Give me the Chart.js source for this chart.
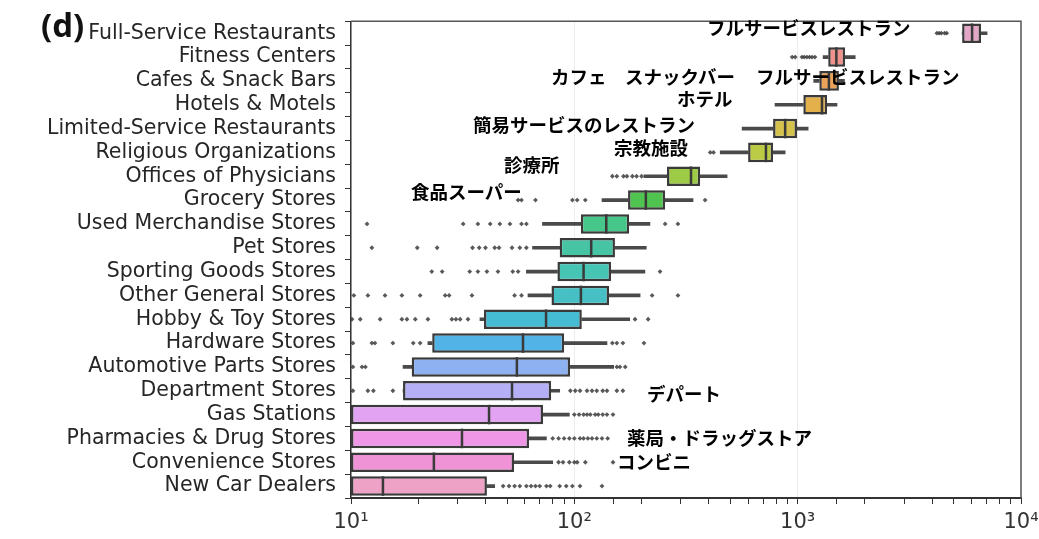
<!DOCTYPE html>
<html>
<head>
<meta charset="utf-8">
<script src="https://cdn.jsdelivr.net/npm/chart.js@4"></script>
<style>
html, body { margin: 0; padding: 0; background: #fff; }
#wrap { position: relative; width: 1039px; height: 539px; }
#chart { position: absolute; left: 0; top: 0; }
.note { position: absolute; font-family: "Noto Sans CJK JP"; font-weight: 700; font-size: 18.5px; line-height: 18px; color: #000; white-space: nowrap; }
#tag { position: absolute; left: 41px; top: 5px; font-family: "Open Sans"; font-weight: 700; font-size: 33px; line-height: 40px; color: #111; }
</style>
</head>
<body>
<div id="wrap">
  <canvas id="chart" width="1039" height="539"></canvas>
  <div id="tag">(d)</div>
</div>
<script>
const categories = [
    'Full-Service Restaurants', 'Fitness Centers', 'Cafes & Snack Bars', 'Hotels & Motels',
    'Limited-Service Restaurants', 'Religious Organizations', 'Offices of Physicians', 'Grocery Stores',
    'Used Merchandise Stores', 'Pet Stores', 'Sporting Goods Stores', 'Other General Stores',
    'Hobby & Toy Stores', 'Hardware Stores', 'Automotive Parts Stores', 'Department Stores',
    'Gas Stations', 'Pharmacies & Drug Stores', 'Convenience Stores', 'New Car Dealers'
];

// box statistics
const q1 =        [5450, 1370, 1250, 1060, 776, 600, 260, 174, 107, 86, 84, 79, 39.4, 23.1, 18.7, 17.1, 10, 10, 10, 10];
const medians =   [6040, 1490, 1380, 1285, 879, 721, 333, 209, 139, 119, 110, 107, 74.7, 58.9, 55.3, 52.6, 41.5, 31.4, 23.5, 13.9];
const q3 =        [6620, 1630, 1530, 1355, 993, 776, 366, 255, 176, 152, 146, 143, 108, 90, 95.7, 78.7, 72.4, 62.7, 53.7, 40.6];
const whiskerLo = [5450, 1300, 1180, 792, 564, 450, 205, 133, 72, 65, 61, 62, 37.8, 22.1, 17.1, 17.1, 10, 10, 10, 10];
const whiskerHi = [7050, 1810, 1620, 1500, 1114, 879, 483, 340, 218, 210, 207, 197, 177, 140, 150, 86, 95, 75, 80, 44];

const outliers = [
    [4200, 4300, 4400, 4550, 4650],
    [945, 975, 1045, 1070, 1100, 1130, 1160, 1195],
    [],
    [],
    [],
    [406, 420],
    [148, 155, 166, 172, 182, 190, 200],
    [56, 58, 67, 98, 103, 112, 385],
    [11.8, 31.8, 37, 42, 46.4, 51.5, 58, 61, 255, 291],
    [12.4, 19.8, 24.3, 35, 37.5, 40, 44, 46, 52.6, 57, 61],
    [23, 25.6, 34, 37, 40.6, 45.5, 53, 56, 242],
    [10.3, 11.9, 14.2, 16.9, 20.4, 26.4, 27.5, 34.8, 54, 58, 223, 291],
    [10.1, 11, 13.5, 16.9, 17.8, 19.4, 22.1, 28.3, 29.5, 30.8, 33.4, 187, 214],
    [10.2, 12.4, 12.8, 15.4, 19, 20.4, 148, 155, 165, 205],
    [10.2, 11.2, 11.6, 155, 160, 169],
    [10.2, 11.9, 12.6, 15.4, 96, 101, 106, 114, 120, 126, 134, 140, 155, 165],
    [100, 105, 110, 114, 118, 124, 128, 134, 140, 149],
    [80, 85, 90, 95, 100, 106, 110, 115, 120, 126, 133, 141],
    [85, 89, 95, 100, 103, 112, 149],
    [48, 51, 54, 57, 61, 64, 67, 70, 75, 78, 86, 92, 98, 106, 133]
];

const boxColors = [
    '#e3a6c6', '#ef928c', '#eba35a', '#e3b04c', '#d5c24c', '#bccb46', '#9dcb46', '#50c350',
    '#46c78a', '#46c4a4', '#46c4b4', '#46c0c4', '#46bcd4', '#52b3e6', '#8eb1f2', '#b5b0f6',
    '#e2a4f2', '#ef96e6', '#ef92d6', '#eea2c6'
];

const xTickValues = [10, 100, 1000, 10000];
const xTickLabels = ['10¹', '10²', '10³', '10⁴'];

// japanese annotations laid over the plot (pixel layout)
const notes = [
    { text: 'フルサービスレストラン', left: 707, cy: 27 },
    { text: 'カフェ　スナックバー', left: 551, cy: 76 },
    { text: 'フルサービスレストラン', left: 756, cy: 76 },
    { text: 'ホテル', left: 677, cy: 98 },
    { text: '簡易サービスのレストラン', left: 473, cy: 124 },
    { text: '宗教施設', left: 614, cy: 147 },
    { text: '診療所', left: 504, cy: 164 },
    { text: '食品スーパー', left: 411, cy: 191 },
    { text: 'デパート', left: 647, cy: 393 },
    { text: '薬局・ドラッグストア', left: 627, cy: 437 },
    { text: 'コンビニ', left: 617, cy: 461 }
];

const wrap = document.getElementById('wrap');
notes.forEach(n => {
    const d = document.createElement('div');
    d.className = 'note';
    d.textContent = n.text;
    d.style.left = n.left + 'px';
    d.style.top = (n.cy - 9) + 'px';
    wrap.appendChild(d);
});

function tickIndex(v) {
    return xTickValues.findIndex(t => Math.abs(t - v) / t < 1e-6);
}

const outlierPoints = [];
outliers.forEach((list, i) => {
    list.forEach(v => outlierPoints.push({ x: v, y: categories[i] }));
});

const medianPlugin = {
    id: 'medians',
    afterDatasetsDraw(chart) {
        const { ctx, chartArea, scales: { x, y } } = chart;
        const bars = chart.getDatasetMeta(0).data;
        ctx.save();
        ctx.strokeStyle = '#3a3a3a';
        ctx.lineWidth = 2.5;
        medians.forEach((m, i) => {
            const px = x.getPixelForValue(m);
            const py = y.getPixelForValue(i);
            const h = bars[i].height / 2;
            ctx.beginPath();
            ctx.moveTo(px, py - h);
            ctx.lineTo(px, py + h);
            ctx.stroke();
        });
        // top and right frame
        ctx.strokeStyle = '#555';
        ctx.lineWidth = 1.5;
        ctx.beginPath();
        ctx.moveTo(chartArea.left, chartArea.top);
        ctx.lineTo(chartArea.right, chartArea.top);
        ctx.lineTo(chartArea.right, chartArea.bottom);
        ctx.stroke();
        ctx.restore();
    }
};

new Chart(document.getElementById('chart'), {
    type: 'bar',
    data: {
        labels: categories,
        datasets: [
            {
                label: 'box',
                data: categories.map((c, i) => [q1[i], q3[i]]),
                backgroundColor: boxColors,
                borderColor: '#3a3a3a',
                borderWidth: 2.5,
                borderSkipped: false,
                barPercentage: 0.82,
                categoryPercentage: 1,
                grouped: false
            },
            {
                label: 'whisker low',
                data: categories.map((c, i) => [whiskerLo[i], q1[i]]),
                backgroundColor: '#4a4a4a',
                borderWidth: 0,
                barThickness: 3,
                grouped: false
            },
            {
                label: 'whisker high',
                data: categories.map((c, i) => [q3[i], whiskerHi[i]]),
                backgroundColor: '#4a4a4a',
                borderWidth: 0,
                barThickness: 3,
                grouped: false
            },
            {
                type: 'scatter',
                label: 'outliers',
                data: outlierPoints,
                pointStyle: 'rectRot',
                pointRadius: 2.4,
                pointBackgroundColor: 'rgba(60,60,60,0.85)',
                pointBorderWidth: 0,
                showLine: false
            }
        ]
    },
    options: {
        indexAxis: 'y',
        responsive: false,
        animation: false,
        layout: { padding: { top: 12, right: 18, left: 0, bottom: 0 } },
        plugins: {
            legend: { display: false },
            tooltip: { enabled: false }
        },
        scales: {
            x: {
                type: 'logarithmic',
                min: 10,
                max: 10000,
                afterFit: function(scale) {
                    scale.height = 41;
                    scale.paddingLeft = 0;
                    scale.paddingRight = 0;
                },
                ticks: {
                    autoSkip: false,
                    maxRotation: 0,
                    padding: 6,
                    color: '#333',
                    font: { family: 'DejaVu Sans', size: 21 },
                    callback: function(value) {
                        const k = tickIndex(value);
                        return k >= 0 ? xTickLabels[k] : '';
                    }
                },
                grid: {
                    color: function(ctx) {
                        return ctx.tick && tickIndex(ctx.tick.value) >= 0 ? '#ececec' : 'rgba(0,0,0,0)';
                    },
                    tickColor: '#333',
                    tickLength: 6
                },
                border: { color: '#333', width: 2 }
            },
            y: {
                type: 'category',
                afterFit: function(scale) { scale.width = 351; },
                ticks: {
                    autoSkip: false,
                    padding: 9,
                    color: '#262626',
                    font: { family: 'DejaVu Sans', size: 20.5 }
                },
                grid: {
                    drawOnChartArea: false,
                    tickColor: '#333',
                    tickLength: 6
                },
                border: { color: '#333', width: 1.5 }
            }
        }
    },
    plugins: [medianPlugin]
});
</script>
</body>
</html>
